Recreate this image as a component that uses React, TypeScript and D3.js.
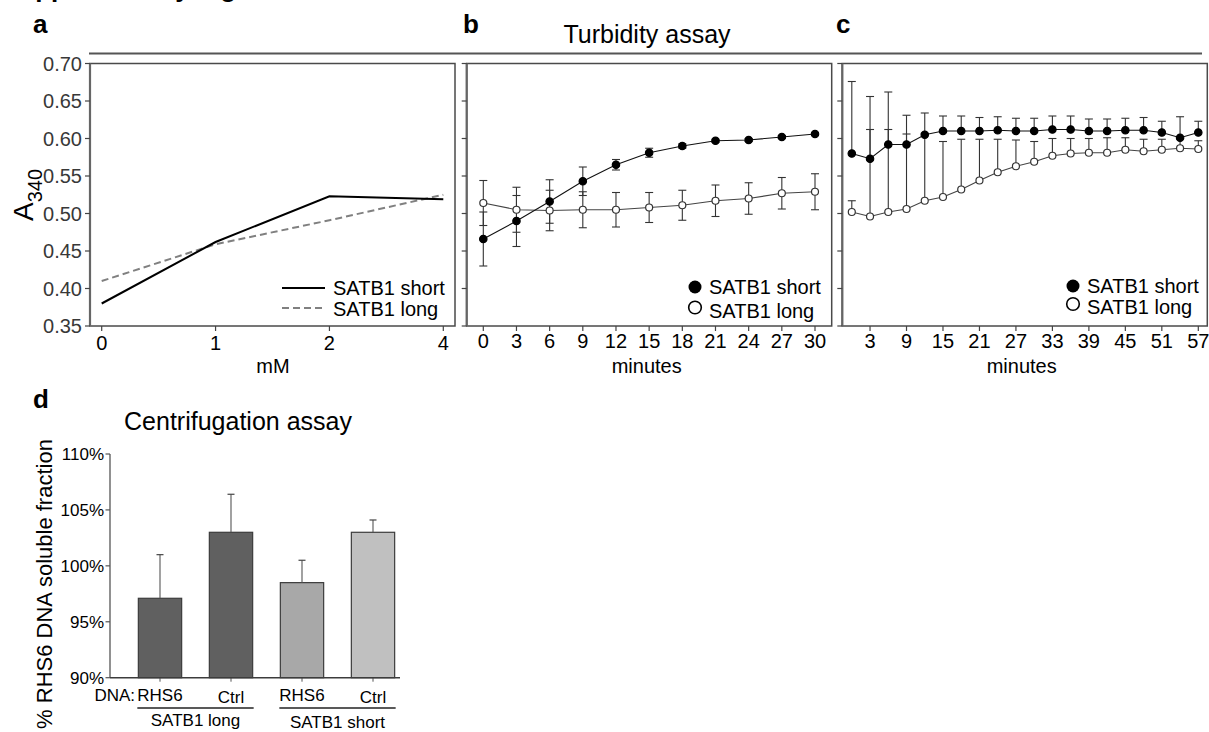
import React from "react";
import * as d3 from "d3";

const FONT = "'Liberation Sans', Arial, Helvetica, sans-serif";

// ---------- Panel a ----------
const aConc = ["0", "1", "2", "4"];
const aShort = [0.38, 0.462, 0.523, 0.519];
const aLong = [0.41, 0.459, 0.491, 0.525];
const yTicksA = [0.35, 0.4, 0.45, 0.5, 0.55, 0.6, 0.65, 0.7];

// ---------- Panel b ----------
const bMinutes = [0, 3, 6, 9, 12, 15, 18, 21, 24, 27, 30];
const bShort = [0.466, 0.49, 0.516, 0.543, 0.565, 0.581, 0.59, 0.597, 0.598, 0.602, 0.606];
const bShortErr = [0.036, 0.034, 0.029, 0.019, 0.007, 0.006, 0.003, 0.002, 0.002, 0.002, 0.002];
const bLong = [0.514, 0.505, 0.504, 0.505, 0.505, 0.508, 0.511, 0.517, 0.52, 0.527, 0.529];
const bLongErr = [0.03, 0.03, 0.027, 0.024, 0.023, 0.02, 0.02, 0.021, 0.021, 0.021, 0.024];

// ---------- Panel c ----------
const cMinutes = [0, 3, 6, 9, 12, 15, 18, 21, 24, 27, 30, 33, 36, 39, 42, 45, 48, 51, 54, 57];
const cTickLabels = [3, 9, 15, 21, 27, 33, 39, 45, 51, 57];
const cShort = [0.58, 0.573, 0.592, 0.592, 0.605, 0.61, 0.61, 0.61, 0.611, 0.61, 0.61, 0.612, 0.612, 0.61, 0.61, 0.611, 0.611, 0.608, 0.601, 0.608];
const cShortErr = [0.096, 0.039, 0.02, 0.014, 0.029, 0.02, 0.02, 0.018, 0.018, 0.017, 0.017, 0.018, 0.018, 0.016, 0.016, 0.016, 0.017, 0.015, 0.028, 0.015];
const cLong = [0.502, 0.496, 0.502, 0.506, 0.517, 0.522, 0.532, 0.544, 0.555, 0.563, 0.569, 0.577, 0.58, 0.581, 0.581, 0.585, 0.583, 0.585, 0.587, 0.586];
const cLongErr = [0.015, 0.16, 0.16, 0.125, 0.09, 0.074, 0.067, 0.055, 0.044, 0.035, 0.027, 0.023, 0.02, 0.019, 0.02, 0.016, 0.016, 0.014, 0.013, 0.011];

// ---------- Panel d ----------
const dDNA = ["RHS6", "Ctrl", "RHS6", "Ctrl"];
const dKeys = ["long-RHS6", "long-Ctrl", "short-RHS6", "short-Ctrl"];
const dGroups = ["SATB1 long", "SATB1 short"];
const dValues = [97.1, 103.0, 98.5, 103.0];
const dErr = [3.9, 3.4, 2.0, 1.1];
const dColors = ["#606060", "#606060", "#a8a8a8", "#c0c0c0"];
const dYTicks = [90, 95, 100, 105, 110];

const yS = d3.scaleLinear().domain([0.35, 0.7]).range([326, 63.5]);
const xA = d3.scalePoint<string>().domain(aConc).range([101.7, 443.3]);
const xB = d3.scaleLinear().domain([0, 30]).range([483.3, 815]);
const xC = d3.scaleLinear().domain([0, 57]).range([851.8, 1198.3]);
const yD = d3.scaleLinear().domain([90, 110]).range([677.7, 454]);
const xD = d3.scaleBand<string>().domain(dKeys).range([124.5, 408.5]).paddingInner(0.39).paddingOuter(0.195);

const fmt2 = d3.format(".2f");

function YTicks({ x, labels }: { x: number; labels: boolean }) {
  return (
    <g>
      {yTicksA.map((t) => (
        <g key={t}>
          <line x1={x - 5} x2={x} y1={yS(t)} y2={yS(t)} stroke="#444" strokeWidth={1.2} />
          {labels && (
            <text x={x - 8} y={yS(t)} dy="0.36em" textAnchor="end" fontSize={20} fill="#383838">
              {fmt2(t)}
            </text>
          )}
        </g>
      ))}
    </g>
  );
}

function PanelBox({ x0, x1 }: { x0: number; x1: number }) {
  return (
    <g>
      <rect x={x0} y={yS(0.7)} width={x1 - x0} height={yS(0.35) - yS(0.7)} fill="none" stroke="#4a4a4a" strokeWidth={1.5} />
      <line x1={x0} x2={x0} y1={yS(0.7)} y2={yS(0.35)} stroke="#666" strokeWidth={2.2} />
    </g>
  );
}

function ErrBars({ xs, ys, es, x, both }: { xs: number[]; ys: number[]; es: number[]; x: (v: number) => number; both: boolean }) {
  return (
    <g stroke="#333" strokeWidth={1.1}>
      {xs.map((m, i) => {
        const cx = x(m);
        const top = yS(ys[i] + es[i]);
        const bot = both ? yS(ys[i] - es[i]) : yS(ys[i]);
        return (
          <g key={i}>
            <line x1={cx} x2={cx} y1={top} y2={bot} />
            <line x1={cx - 4} x2={cx + 4} y1={top} y2={top} />
            {both && <line x1={cx - 4} x2={cx + 4} y1={bot} y2={bot} />}
          </g>
        );
      })}
    </g>
  );
}

function Series({ xs, ys, x, filled }: { xs: number[]; ys: number[]; x: (v: number) => number; filled: boolean }) {
  const line = d3.line<number>().x((_, i) => x(xs[i])).y((d) => yS(d));
  return (
    <g>
      <path d={line(ys) || ""} fill="none" stroke={filled ? "#111" : "#444"} strokeWidth={1.1} />
      {ys.map((v, i) => (
        <circle key={i} cx={x(xs[i])} cy={yS(v)} r={filled ? 3.7 : 3.5} fill={filled ? "#000" : "#fff"} stroke={filled ? "#000" : "#333"} strokeWidth={1.2} />
      ))}
    </g>
  );
}

function Legend({ cx, y1, y2 }: { cx: number; y1: number; y2: number }) {
  return (
    <g fontSize={20}>
      <circle cx={cx} cy={y1} r={6.5} fill="#000" />
      <text x={cx + 14} y={y1} dy="0.36em">SATB1 short</text>
      <circle cx={cx} cy={y2} r={6.3} fill="#fff" stroke="#000" strokeWidth={1.6} />
      <text x={cx + 14} y={y2 + 3} dy="0.36em">SATB1 long</text>
    </g>
  );
}

export default function App() {
  const lineA = d3.line<number>().x((_, i) => xA(aConc[i]) as number).y((d) => yS(d));
  const y0 = yS(0.35);

  return (
    <svg width={1209} height={732} style={{ position: "absolute", left: 0, top: 0, display: "block", background: "#fff" }} fontFamily={FONT}>
      {/* header (cut off at the top edge, as in the source figure) */}
      <text x={2} y={-3} fontSize={26} fontWeight="bold">Supplementary Figure 5</text>

      {/* panel labels */}
      <g fontSize={26} fontWeight="bold">
        <text x={33} y={33}>a</text>
        <text x={463} y={33}>b</text>
        <text x={836} y={33}>c</text>
        <text x={33} y={408}>d</text>
      </g>

      <text x={647} y={43} fontSize={25} textAnchor="middle">Turbidity assay</text>
      <line x1={89} x2={1202} y1={53.5} y2={53.5} stroke="#555" strokeWidth={2} />

      {/* ---------- panel a ---------- */}
      <text transform="translate(33,221) rotate(-90)" fontSize={28}>
        A<tspan fontSize={20} dy={9}>340</tspan>
      </text>
      <PanelBox x0={90} x1={455} />
      <YTicks x={90} labels={true} />
      {aConc.map((c) => (
        <g key={c}>
          <line x1={xA(c)} x2={xA(c)} y1={y0} y2={y0 + 5} stroke="#444" strokeWidth={1.2} />
          <text x={xA(c)} y={350} textAnchor="middle" fontSize={20}>{c}</text>
        </g>
      ))}
      <text x={273} y={373} textAnchor="middle" fontSize={20}>mM</text>
      <path d={lineA(aLong) || ""} fill="none" stroke="#808080" strokeWidth={2} strokeDasharray="7,4" />
      <path d={lineA(aShort) || ""} fill="none" stroke="#000" strokeWidth={2} />
      <line x1={282} x2={325} y1={288} y2={288} stroke="#000" strokeWidth={2} />
      <text x={333} y={288} dy="0.36em" fontSize={20}>SATB1 short</text>
      <line x1={282} x2={325} y1={308} y2={308} stroke="#808080" strokeWidth={2} strokeDasharray="7,4" />
      <text x={333} y={309} dy="0.36em" fontSize={20}>SATB1 long</text>

      {/* ---------- panel b ---------- */}
      <PanelBox x0={466.7} x1={831.7} />
      <YTicks x={466.7} labels={false} />
      {bMinutes.map((m) => (
        <g key={m}>
          <line x1={xB(m)} x2={xB(m)} y1={y0} y2={y0 + 5} stroke="#444" strokeWidth={1.2} />
          <text x={xB(m)} y={348} textAnchor="middle" fontSize={20}>{m}</text>
        </g>
      ))}
      <text x={646.7} y={373} textAnchor="middle" fontSize={20}>minutes</text>
      <ErrBars xs={bMinutes} ys={bLong} es={bLongErr} x={xB} both={true} />
      <ErrBars xs={bMinutes} ys={bShort} es={bShortErr} x={xB} both={true} />
      <Series xs={bMinutes} ys={bLong} x={xB} filled={false} />
      <Series xs={bMinutes} ys={bShort} x={xB} filled={true} />
      <Legend cx={695} y1={287} y2={307.5} />

      {/* ---------- panel c ---------- */}
      <PanelBox x0={842.3} x1={1207.3} />
      <YTicks x={842.3} labels={false} />
      {cTickLabels.map((m) => (
        <g key={m}>
          <line x1={xC(m)} x2={xC(m)} y1={y0} y2={y0 + 5} stroke="#444" strokeWidth={1.2} />
          <text x={xC(m)} y={348} textAnchor="middle" fontSize={20}>{m}</text>
        </g>
      ))}
      <text x={1021.7} y={373} textAnchor="middle" fontSize={20}>minutes</text>
      <ErrBars xs={cMinutes} ys={cLong} es={cLongErr} x={xC} both={false} />
      <ErrBars xs={cMinutes} ys={cShort} es={cShortErr} x={xC} both={false} />
      <Series xs={cMinutes} ys={cLong} x={xC} filled={false} />
      <Series xs={cMinutes} ys={cShort} x={xC} filled={true} />
      <Legend cx={1073} y1={286} y2={304} />

      {/* ---------- panel d ---------- */}
      <text x={238} y={430} textAnchor="middle" fontSize={25}>Centrifugation assay</text>
      <text transform="translate(52,584) rotate(-90)" textAnchor="middle" fontSize={22}>% RHS6 DNA soluble fraction</text>
      <line x1={110} x2={110} y1={yD(110)} y2={yD(90)} stroke="#555" strokeWidth={1.3} />
      {dYTicks.map((t) => (
        <g key={t}>
          <line x1={105.5} x2={110} y1={yD(t)} y2={yD(t)} stroke="#555" strokeWidth={1.2} />
          <text x={104} y={yD(t)} dy="0.36em" textAnchor="end" fontSize={17}>{t}%</text>
        </g>
      ))}
      {dKeys.map((k, i) => {
        const bx = xD(k) as number;
        const bw = xD.bandwidth();
        const cx = bx + bw / 2;
        return (
          <g key={k}>
            <rect x={bx} y={yD(dValues[i])} width={bw} height={yD(90) - yD(dValues[i])} fill={dColors[i]} stroke="#3c3c3c" strokeWidth={1.2} />
            <line x1={cx} x2={cx} y1={yD(dValues[i])} y2={yD(dValues[i] + dErr[i])} stroke="#555" strokeWidth={1.1} />
            <line x1={cx - 3.5} x2={cx + 3.5} y1={yD(dValues[i] + dErr[i])} y2={yD(dValues[i] + dErr[i])} stroke="#444" strokeWidth={1.2} />
            <line x1={cx} x2={cx} y1={yD(90)} y2={yD(90) + 4} stroke="#555" strokeWidth={1} />
            <text x={cx} y={i % 2 === 0 ? 701 : 703} textAnchor="middle" fontSize={17}>{dDNA[i]}</text>
          </g>
        );
      })}
      <line x1={110} x2={400} y1={yD(90)} y2={yD(90)} stroke="#3c3c3c" strokeWidth={1.5} />
      <text x={135} y={701} textAnchor="end" fontSize={17}>DNA:</text>
      {dGroups.map((g, gi) => {
        const a = xD(dKeys[gi * 2]) as number;
        const b = (xD(dKeys[gi * 2 + 1]) as number) + xD.bandwidth();
        return (
          <g key={g}>
            <line x1={a - 1} x2={b + 1} y1={708} y2={708} stroke="#222" strokeWidth={1.5} />
            <text x={(a + b) / 2} y={gi === 0 ? 726 : 728} textAnchor="middle" fontSize={17}>{g}</text>
          </g>
        );
      })}
    </svg>
  );
}
